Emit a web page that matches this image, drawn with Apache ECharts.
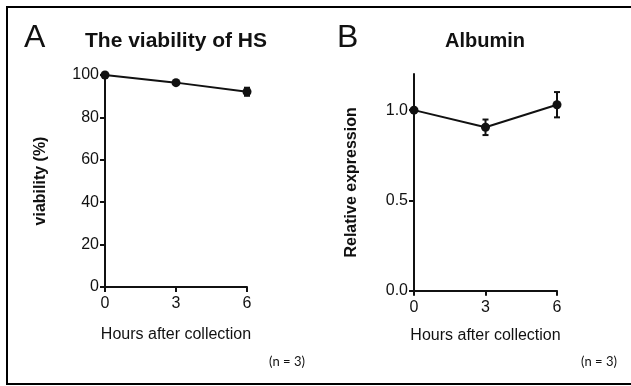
<!DOCTYPE html>
<html>
<head>
<meta charset="utf-8">
<script src="https://cdn.jsdelivr.net/npm/echarts@6/dist/echarts.min.js"></script>
<style>
html,body{margin:0;padding:0;background:#fff;}
#c{width:631px;height:386px;}
</style>
</head>
<body>
<div id="c"></div>
<script>
var hours = [0, 3, 6];
var hourTicks = [0, 3, 6];
var viability = [100, 96.4, 92.1];
var viabilityErr = [0, 0.8, 1.9];
var viabilityTicks = [0, 20, 40, 60, 80, 100];
var albumin = [1.0, 0.905, 1.03];
var albuminErr = [0, 0.043, 0.07];
var albuminTicks = [0, 0.5, 1.0];

var FONT = '"Liberation Sans", Arial, sans-serif';
var INK = '#111';

function pairs(xs, ys) { return xs.map(function (x, i) { return [x, ys[i]]; }); }
function errData(xs, ys, es) { return xs.map(function (x, i) { return [x, ys[i] - es[i], ys[i] + es[i]]; }); }

function errorRender(params, api) {
  var x = api.value(0);
  var lo = api.coord([x, api.value(1)]);
  var hi = api.coord([x, api.value(2)]);
  var w = 3;
  var st = { stroke: INK, lineWidth: 2 };
  return {
    type: 'group',
    children: [
      { type: 'line', shape: { x1: lo[0], y1: lo[1], x2: hi[0], y2: hi[1] }, style: st },
      { type: 'line', shape: { x1: lo[0] - w, y1: lo[1], x2: lo[0] + w, y2: lo[1] }, style: st },
      { type: 'line', shape: { x1: hi[0] - w, y1: hi[1], x2: hi[0] + w, y2: hi[1] }, style: st }
    ]
  };
}

function xAxisCfg(gi, gap) {
  return {
    type: 'value', gridIndex: gi, min: 0, max: 6, interval: 3,
    name: 'Hours after collection', nameLocation: 'middle', nameGap: gap,
    nameTextStyle: { fontFamily: FONT, fontSize: 16, color: INK },
    axisLine: { show: true, onZero: false, lineStyle: { color: INK, width: 2 } },
    axisTick: { show: true, length: 5, lineStyle: { color: INK, width: 2 }, customValues: hourTicks },
    axisLabel: { fontFamily: FONT, fontSize: 16, color: INK, margin: 9, customValues: hourTicks },
    splitLine: { show: false }
  };
}

var option = {
  backgroundColor: '#fff',
  animation: false,
  grid: [
    { left: 105, top: 75, width: 142, height: 212, containLabel: false },
    { left: 414, top: 74, width: 143, height: 216.8, containLabel: false }
  ],
  xAxis: [xAxisCfg(0, 40), xAxisCfg(1, 37)],
  yAxis: [
    {
      type: 'value', gridIndex: 0, min: 0, max: 100, interval: 20,
      name: 'viability (%)', nameLocation: 'middle', nameGap: 56, nameRotate: 90,
      nameTextStyle: { fontFamily: FONT, fontSize: 16, fontWeight: 'bold', color: INK },
      axisLine: { show: true, onZero: false, lineStyle: { color: INK, width: 2 } },
      axisTick: { show: true, length: 5, lineStyle: { color: INK, width: 2 }, customValues: viabilityTicks },
      axisLabel: { fontFamily: FONT, fontSize: 16, color: INK, margin: 6, customValues: viabilityTicks },
      splitLine: { show: false }
    },
    {
      type: 'value', gridIndex: 1, min: 0, max: 1.2,
      name: 'Relative expression', nameLocation: 'middle', nameGap: 54, nameRotate: 90,
      nameTextStyle: { fontFamily: FONT, fontSize: 16, fontWeight: 'bold', color: INK },
      axisLine: { show: true, onZero: false, lineStyle: { color: INK, width: 2 } },
      axisTick: { show: true, length: 5, lineStyle: { color: INK, width: 2 }, customValues: albuminTicks },
      axisLabel: { fontFamily: FONT, fontSize: 16, color: INK, margin: 6, customValues: albuminTicks,
        formatter: function (v) { return Number(v).toFixed(1); } },
      splitLine: { show: false }
    }
  ],
  series: [
    {
      type: 'line', xAxisIndex: 0, yAxisIndex: 0, data: pairs(hours, viability),
      symbol: 'circle', symbolSize: 9, clip: false,
      lineStyle: { color: INK, width: 2 }, itemStyle: { color: INK }, z: 3
    },
    {
      type: 'custom', xAxisIndex: 0, yAxisIndex: 0, data: errData(hours, viability, viabilityErr),
      renderItem: errorRender, clip: false, z: 4
    },
    {
      type: 'line', xAxisIndex: 1, yAxisIndex: 1, data: pairs(hours, albumin),
      symbol: 'circle', symbolSize: 9, clip: false,
      lineStyle: { color: INK, width: 2 }, itemStyle: { color: INK }, z: 3
    },
    {
      type: 'custom', xAxisIndex: 1, yAxisIndex: 1, data: errData(hours, albumin, albuminErr),
      renderItem: errorRender, clip: false, z: 4
    }
  ],
  graphic: [
    { type: 'line', shape: { x1: 7, y1: 7, x2: 631, y2: 7 }, style: { stroke: '#000', lineWidth: 2 }, silent: true },
    { type: 'line', shape: { x1: 7, y1: 6, x2: 7, y2: 385 }, style: { stroke: '#000', lineWidth: 2 }, silent: true },
    { type: 'line', shape: { x1: 6, y1: 384, x2: 631, y2: 384 }, style: { stroke: '#000', lineWidth: 2 }, silent: true },
    { type: 'text', x: 24, y: 38, style: { text: 'A', fontFamily: FONT, fontSize: 32, fill: INK, verticalAlign: 'middle' } },
    { type: 'text', x: 337, y: 38, style: { text: 'B', fontFamily: FONT, fontSize: 32, fill: INK, verticalAlign: 'middle' } },
    { type: 'text', x: 176, y: 41, style: { text: 'The viability of HS', fontFamily: FONT, fontSize: 21, fontWeight: 'bold', fill: INK, align: 'center', verticalAlign: 'middle' } },
    { type: 'text', x: 485, y: 41, style: { text: 'Albumin', fontFamily: FONT, fontSize: 20, fontWeight: 'bold', fill: INK, align: 'center', verticalAlign: 'middle' } },
    { type: 'text', x: 287, y: 362, style: { text: '(n = 3)', fontFamily: 'Lato, "Open Sans", sans-serif', fontSize: 13, fill: INK, align: 'center', verticalAlign: 'middle' } },
    { type: 'text', x: 599, y: 362, style: { text: '(n = 3)', fontFamily: 'Lato, "Open Sans", sans-serif', fontSize: 13, fill: INK, align: 'center', verticalAlign: 'middle' } }
  ]
};

var chart = echarts.init(document.getElementById('c'), null, { renderer: 'canvas' });
chart.setOption(option);
</script>
</body>
</html>
